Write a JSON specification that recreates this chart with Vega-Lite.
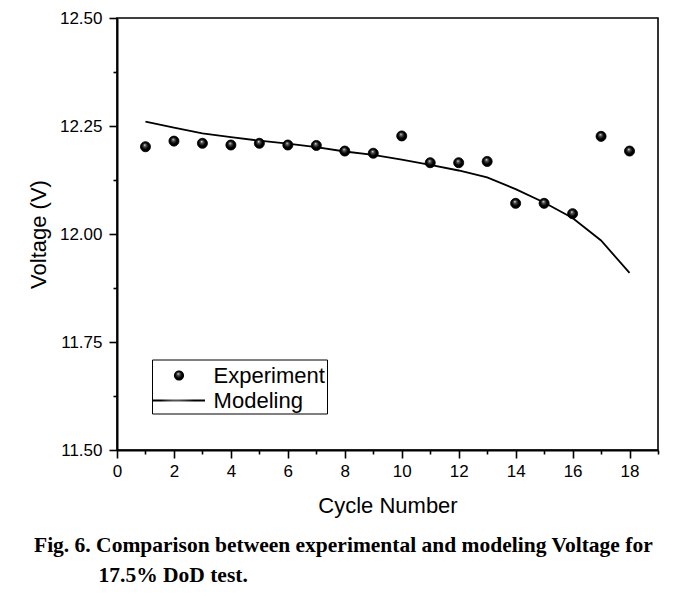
{
  "$schema": "https://vega.github.io/schema/vega-lite/v6.json",
  "width": 541,
  "height": 432,
  "autosize": {"type": "none"},
  "padding": {"left": 117, "top": 18, "right": 36, "bottom": 146},
  "background": "white",
  "config": {
    "view": {"stroke": "black", "strokeWidth": 1.6},
    "font": "Liberation Sans",
    "legend": {"strokeWidth": 1}
  },
  "title": {
    "text": ["Fig. 6. Comparison between experimental and modeling Voltage for", "\u200b\u00a0\u00a0\u00a0\u00a0\u00a0\u00a0\u00a0\u00a0\u00a0\u00a0\u00a0\u00a017.5% DoD test."],
    "orient": "bottom",
    "anchor": "start",
    "frame": "group",
    "font": "Liberation Serif",
    "fontWeight": "bold",
    "fontSize": 21.5,
    "color": "black",
    "offset": 19,
    "dx": -83,
    "lineHeight": 30
  },
  "datasets": {
    "exp": [
      {"cycle": 1, "voltage": 12.202, "series": "Experiment"},
      {"cycle": 2, "voltage": 12.215, "series": "Experiment"},
      {"cycle": 3, "voltage": 12.210, "series": "Experiment"},
      {"cycle": 4, "voltage": 12.206, "series": "Experiment"},
      {"cycle": 5, "voltage": 12.210, "series": "Experiment"},
      {"cycle": 6, "voltage": 12.206, "series": "Experiment"},
      {"cycle": 7, "voltage": 12.205, "series": "Experiment"},
      {"cycle": 8, "voltage": 12.192, "series": "Experiment"},
      {"cycle": 9, "voltage": 12.187, "series": "Experiment"},
      {"cycle": 10, "voltage": 12.227, "series": "Experiment"},
      {"cycle": 11, "voltage": 12.165, "series": "Experiment"},
      {"cycle": 12, "voltage": 12.165, "series": "Experiment"},
      {"cycle": 13, "voltage": 12.168, "series": "Experiment"},
      {"cycle": 14, "voltage": 12.071, "series": "Experiment"},
      {"cycle": 15, "voltage": 12.071, "series": "Experiment"},
      {"cycle": 16, "voltage": 12.047, "series": "Experiment"},
      {"cycle": 17, "voltage": 12.226, "series": "Experiment"},
      {"cycle": 18, "voltage": 12.192, "series": "Experiment"}
    ],
    "model": [
      {"cycle": 1, "voltage": 12.260, "series": "Modeling"},
      {"cycle": 2, "voltage": 12.246, "series": "Modeling"},
      {"cycle": 3, "voltage": 12.233, "series": "Modeling"},
      {"cycle": 4, "voltage": 12.224, "series": "Modeling"},
      {"cycle": 5, "voltage": 12.216, "series": "Modeling"},
      {"cycle": 6, "voltage": 12.209, "series": "Modeling"},
      {"cycle": 7, "voltage": 12.201, "series": "Modeling"},
      {"cycle": 8, "voltage": 12.191, "series": "Modeling"},
      {"cycle": 9, "voltage": 12.183, "series": "Modeling"},
      {"cycle": 10, "voltage": 12.172, "series": "Modeling"},
      {"cycle": 11, "voltage": 12.160, "series": "Modeling"},
      {"cycle": 12, "voltage": 12.147, "series": "Modeling"},
      {"cycle": 13, "voltage": 12.131, "series": "Modeling"},
      {"cycle": 14, "voltage": 12.104, "series": "Modeling"},
      {"cycle": 15, "voltage": 12.073, "series": "Modeling"},
      {"cycle": 16, "voltage": 12.037, "series": "Modeling"},
      {"cycle": 17, "voltage": 11.985, "series": "Modeling"},
      {"cycle": 18, "voltage": 11.910, "series": "Modeling"}
    ]
  },
  "encoding": {
    "x": {
      "field": "cycle",
      "type": "quantitative",
      "scale": {"domain": [0, 19], "nice": false, "zero": false},
      "axis": {
        "title": "Cycle Number",
        "values": [0, 1, 2, 3, 4, 5, 6, 7, 8, 9, 10, 11, 12, 13, 14, 15, 16, 17, 18, 19],
        "labelExpr": "datum.value % 2 ? '' : datum.label",
        "tickSize": {"condition": {"test": "datum.value % 2 == 1", "value": 4}, "value": 8},
        "grid": false,
        "domainColor": "black",
        "domainWidth": 2,
        "tickColor": "black",
        "tickWidth": 1.6,
        "labelFont": "Liberation Sans",
        "labelFontSize": 17,
        "labelColor": "black",
        "labelPadding": 5,
        "labelFlush": false,
        "labelOverlap": false,
        "titleFont": "Liberation Sans",
        "titleFontSize": 22,
        "titleFontWeight": "normal",
        "titleColor": "black",
        "titlePadding": 16
      }
    },
    "y": {
      "field": "voltage",
      "type": "quantitative",
      "scale": {"domain": [11.5, 12.5], "nice": false, "zero": false},
      "axis": {
        "title": "Voltage (V)",
        "values": [11.5, 11.625, 11.75, 11.875, 12.0, 12.125, 12.25, 12.375, 12.5],
        "labelExpr": "(round(datum.value * 8) % 2) ? '' : format(datum.value, '.2f')",
        "tickSize": {"condition": {"test": "round(datum.value * 8) % 2 == 1", "value": 4}, "value": 8},
        "grid": false,
        "domainColor": "black",
        "domainWidth": 2,
        "tickColor": "black",
        "tickWidth": 1.6,
        "labelFont": "Liberation Sans",
        "labelFontSize": 17,
        "labelColor": "black",
        "labelPadding": 7,
        "labelFlush": false,
        "labelOverlap": false,
        "titleFont": "Liberation Sans",
        "titleFontSize": 22,
        "titleFontWeight": "normal",
        "titleColor": "black",
        "titlePadding": 9
      }
    }
  },
  "layer": [
    {
      "data": {"name": "model"},
      "mark": {"type": "line", "color": "black", "strokeWidth": 1.8},
      "encoding": {}
    },
    {
      "data": {"name": "exp"},
      "mark": {
        "type": "point",
        "filled": true,
        "opacity": 1,
        "size": 784,
        "fill": {
          "gradient": "radial",
          "x1": 0.42, "y1": 0.32, "r1": 0,
          "x2": 0.5, "y2": 0.5, "r2": 0.55,
          "stops": [
            {"offset": 0, "color": "#f4f4f4"},
            {"offset": 0.22, "color": "#5a5a5a"},
            {"offset": 0.6, "color": "#000000"},
            {"offset": 1, "color": "#000000"}
          ]
        },
        "stroke": "black",
        "strokeWidth": 0.8
      },
      "encoding": {
        "shape": {
          "field": "series",
          "type": "nominal",
          "scale": {
            "domain": ["Experiment", "Modeling"],
            "range": [
              "M -0.36 0 A 0.36 0.36 0 1 1 0.36 0 A 0.36 0.36 0 1 1 -0.36 0 Z",
              "M -1.857 -0.065 L 1.857 -0.065 L 1.857 0.065 L -1.857 0.065 Z"
            ]
          },
          "legend": {
            "title": null,
            "orient": "none",
            "legendX": 35,
            "legendY": 341.5,
            "strokeColor": "black",
            "fillColor": "white",
            "padding": 2,
            "labelFont": "Liberation Sans",
            "labelFontSize": 22,
            "labelColor": "black",
            "labelOffset": 20.6,
            "symbolOffset": 11,
            "symbolSize": 784,
            "symbolStrokeWidth": 0,
            "symbolFillColor": "black",
            "symbolStrokeColor": "black",
            "symbolOpacity": 1,
            "rowPadding": -1
          }
        }
      }
    }
  ]
}
